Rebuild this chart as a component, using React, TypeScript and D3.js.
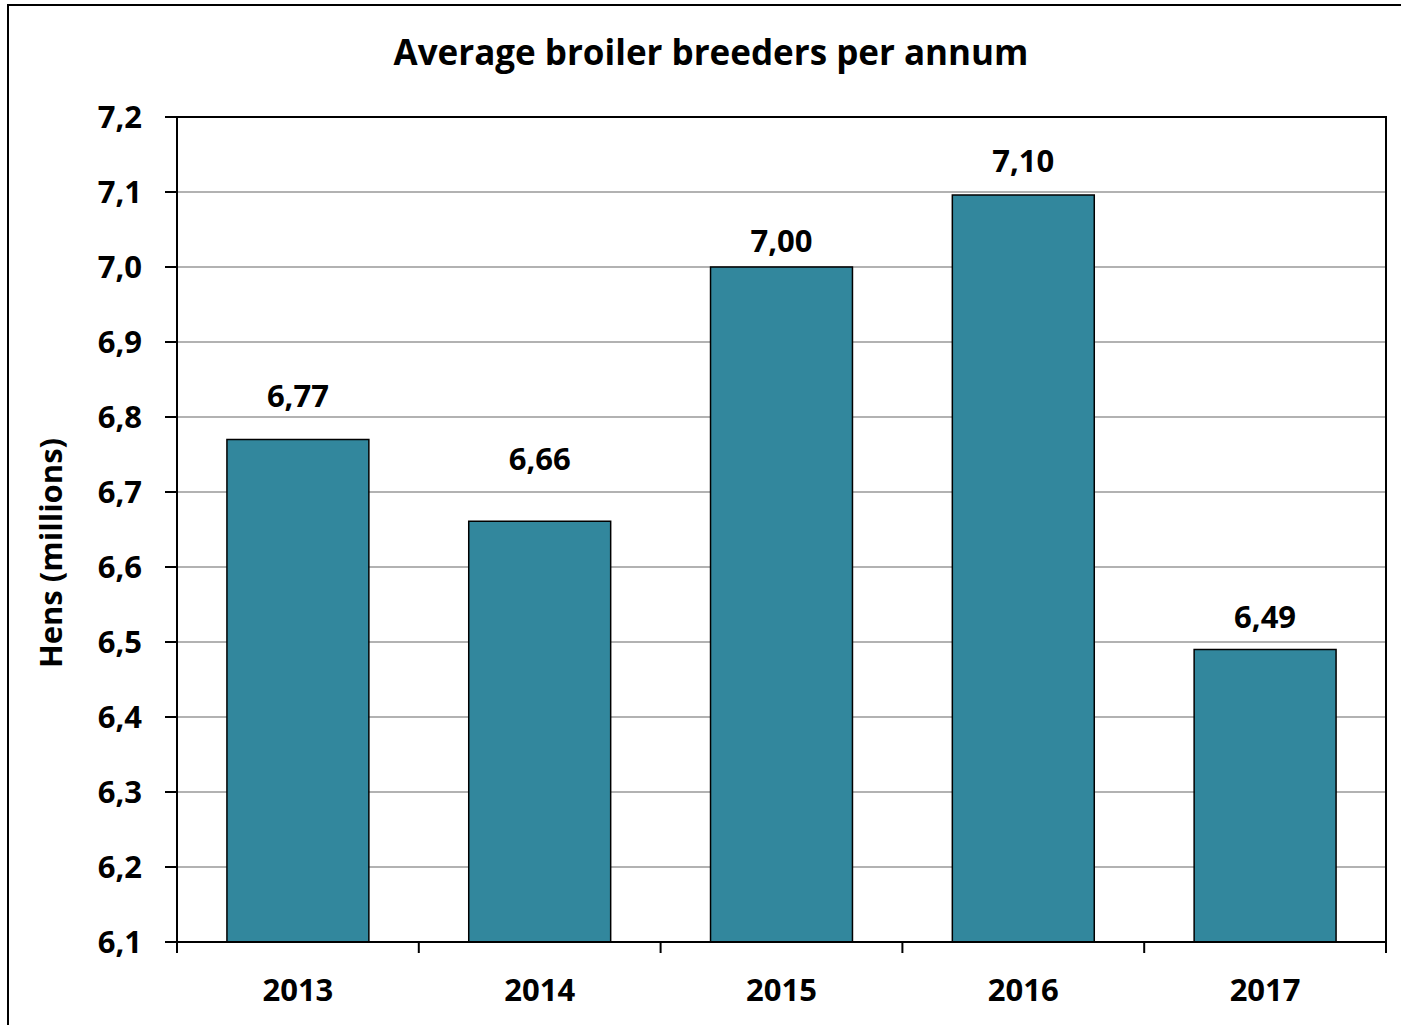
import React from "react";
import * as d3 from "d3";

const years = ["2013", "2014", "2015", "2016", "2017"];
const values = [6.77, 6.661, 7.0, 7.096, 6.49];
const yTicks = [6.1, 6.2, 6.3, 6.4, 6.5, 6.6, 6.7, 6.8, 6.9, 7.0, 7.1, 7.2];
const title = "Average broiler breeders per annum";
const yTitle = "Hens (millions)";
// gap (px) between bar top and its label baseline
const labelGap = [33, 51, 15, 23, 22];

const W = 1401;
const H = 1025;
const M = { left: 177, right: 1386, top: 117, bottom: 942 };
const FONT = "'Open Sans', sans-serif";

export default function App() {
  const x = d3.scaleBand<string>().domain(years).range([M.left, M.right]).padding(0);
  const y = d3.scaleLinear().domain([6.1, 7.2]).range([M.bottom, M.top]);
  const barW = x.bandwidth() * 0.587;
  const fmt = (v: number, d: number) => v.toFixed(d).replace(".", ",");
  const boundaries = [...years.map((yr) => x(yr) as number), M.right];

  return (
    <svg width={W} height={H} style={{ position: "absolute", left: 0, top: 0 }}>
      <rect x={0} y={0} width={W} height={H} fill="#fff" />
      <rect x={8} y={5} width={W + 20} height={H + 20} fill="none" stroke="#000" strokeWidth={2} />
      <text x={711} y={65} textAnchor="middle" fontFamily={FONT} fontWeight={700} fontSize={35} fill="#000">
        {title}
      </text>
      {yTicks.map((t) => (
        <line key={"g" + t} x1={M.left} x2={M.right} y1={y(t)} y2={y(t)} stroke="#999" strokeWidth={1.5} />
      ))}
      {years.map((yr, i) => {
        const cx = (x(yr) as number) + x.bandwidth() / 2;
        return (
          <g key={yr}>
            <rect
              x={cx - barW / 2}
              y={y(values[i])}
              width={barW}
              height={M.bottom - y(values[i])}
              fill="#32879d"
              stroke="#000"
              strokeWidth={1.5}
            />
            <text x={cx} y={y(values[i]) - labelGap[i]} textAnchor="middle" fontFamily={FONT} fontWeight={700} fontSize={31} fill="#000">
              {fmt(values[i], 2)}
            </text>
            <text x={cx} y={1001} textAnchor="middle" fontFamily={FONT} fontWeight={700} fontSize={31} fill="#000">
              {yr}
            </text>
          </g>
        );
      })}
      <rect x={M.left} y={M.top} width={M.right - M.left} height={M.bottom - M.top} fill="none" stroke="#000" strokeWidth={2} />
      {yTicks.map((t) => (
        <g key={"t" + t}>
          <line x1={165} x2={M.left} y1={y(t)} y2={y(t)} stroke="#000" strokeWidth={2} />
          <text x={142} y={y(t)} dy="0.36em" textAnchor="end" fontFamily={FONT} fontWeight={700} fontSize={31} fill="#000">
            {fmt(t, 1)}
          </text>
        </g>
      ))}
      {boundaries.map((b, i) => (
        <line key={"x" + i} x1={b} x2={b} y1={M.bottom} y2={M.bottom + 11} stroke="#000" strokeWidth={2} />
      ))}
      <text
        transform={`translate(62,${553}) rotate(-90)`}
        textAnchor="middle"
        fontFamily={FONT}
        fontWeight={700}
        fontSize={31}
        fill="#000"
      >
        {yTitle}
      </text>
    </svg>
  );
}
